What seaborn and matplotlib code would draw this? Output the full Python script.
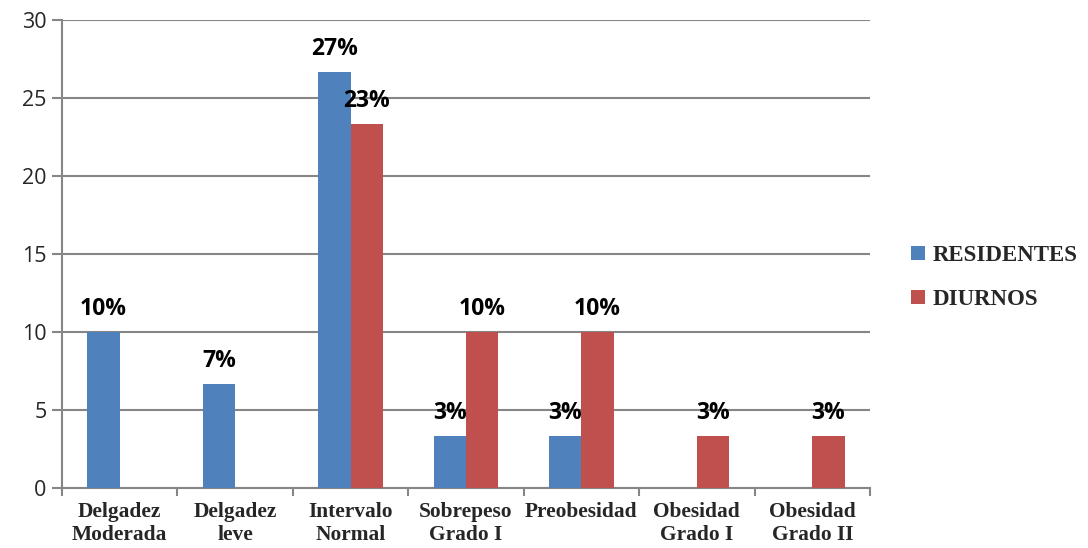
import matplotlib
matplotlib.use("Agg")
import matplotlib.pyplot as plt
import seaborn as sns
import pandas as pd
from matplotlib.ticker import FixedLocator

categorias = ["Delgadez\nModerada", "Delgadez\nleve", "Intervalo\nNormal",
              "Sobrepeso\nGrado I", "Preobesidad", "Obesidad\nGrado I", "Obesidad\nGrado II"]
residentes = [10.0, 6.67, 26.67, 3.33, 3.33, 0.0, 0.0]
diurnos = [0.0, 0.0, 23.33, 10.0, 10.0, 3.33, 3.33]
series = ["RESIDENTES", "DIURNOS"]
colores = ["#4F81BD", "#C0504D"]

df = pd.DataFrame({
    "categoria": categorias * 2,
    "grupo": [series[0]] * len(categorias) + [series[1]] * len(categorias),
    "valor": residentes + diurnos,
})

sns.set_style("white")
fig = plt.figure(figsize=(10.88, 5.48), dpi=100)
ax = fig.add_axes([0.057, 0.1095, 0.7426, 0.854])

sns.barplot(data=df, x="categoria", y="valor", hue="grupo", order=categorias,
            hue_order=series, palette=colores, width=0.56, gap=0,
            saturation=1, errorbar=None, ax=ax, linewidth=0, zorder=3)

grid_color = "#868686"
ax.set_ylim(0, 30)
ax.set_xlim(-0.5, len(categorias) - 0.5)
ax.set_yticks(range(0, 31, 5))
ax.yaxis.grid(True, color=grid_color, linewidth=1.5, zorder=0)
ax.set_axisbelow(True)
for side in ["top", "right"]:
    ax.spines[side].set_visible(False)
for side in ["left", "bottom"]:
    ax.spines[side].set_color(grid_color)
    ax.spines[side].set_linewidth(1.5)

ax.tick_params(axis="y", which="major", length=7, width=1.5, color=grid_color,
               labelsize=15.5, pad=4, left=True)
for lbl in ax.get_yticklabels():
    lbl.set_family("Open Sans")

ax.tick_params(axis="x", which="major", length=0, pad=10)
ax.xaxis.set_minor_locator(FixedLocator([i - 0.5 for i in range(len(categorias) + 1)]))
ax.tick_params(axis="x", which="minor", length=6, width=1.5, color=grid_color, bottom=True)
ax.set_xticks(range(len(categorias)))
ax.set_xticklabels(categorias, fontfamily="Liberation Serif", fontweight="bold",
                   fontsize=15.4, linespacing=1.2)
ax.set_xlabel("")
ax.set_ylabel("")

for cont, vals in zip(ax.containers, [residentes, diurnos]):
    etiquetas = [f"{round(v):d}%" if v > 0 else "" for v in vals]
    ax.bar_label(cont, labels=etiquetas, padding=8, fontsize=16.5,
                 fontweight="bold", fontfamily="Open Sans", color="black")

leg = ax.legend(loc="center left", bbox_to_anchor=(1.025, 0.45), frameon=False,
                handlelength=0.6, handleheight=0.6, handletextpad=0.35,
                labelspacing=1.0, prop={"family": "Liberation Serif",
                                        "weight": "bold", "size": 16.5})

fig.savefig("out.png", dpi=100, facecolor="white")
